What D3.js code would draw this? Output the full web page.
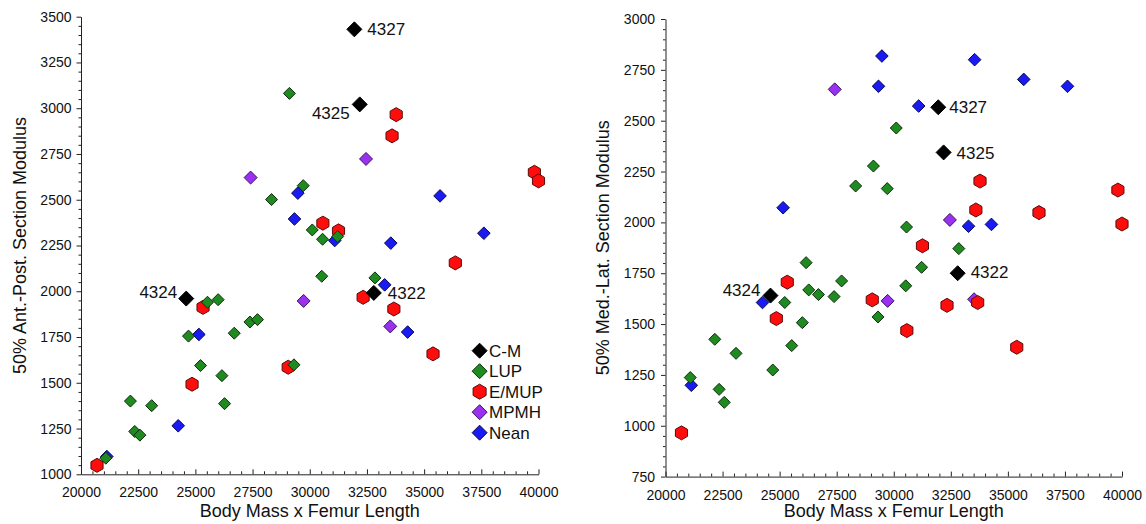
<!DOCTYPE html>
<html><head><meta charset="utf-8">
<script src="https://cdn.jsdelivr.net/npm/d3@7"></script>
<style>
body{margin:0;background:#fff}
svg{display:block}
text{font-family:"Liberation Sans",Arial,Helvetica,sans-serif;fill:#111}
</style>
</head><body>
<svg id="chart" width="1146" height="524"></svg>
<script>
// ---------------- DATA ----------------
const xTicks = [20000, 22500, 25000, 27500, 30000, 32500, 35000, 37500, 40000];
const yTicksAP = [1000, 1250, 1500, 1750, 2000, 2250, 2500, 2750, 3000, 3250, 3500];
const yTicksML = [750, 1000, 1250, 1500, 1750, 2000, 2250, 2500, 2750, 3000];
const seriesNames = ["C-M", "LUP", "E/MUP", "MPMH", "Nean"];

// C-M (labelled specimens)
const cmLabels = ["4324", "4327", "4325", "4322"];
const cmX  = [24600, 31950, 32185, 32800];
const cmAP = [1960, 3431, 3021, 1991];
const cmML = [1640, 2566, 2344, 1750];

// LUP
const lupX  = [21085, 22160, 22350, 22575, 23090, 24700, 25225, 25530, 25995, 26160, 26275, 26700, 27385, 27715, 28330, 29110, 29310, 29715, 30110, 30525, 30560, 31220, 32850];
const lupAP = [1088, 1400, 1234, 1214, 1375, 1755, 1594, 1940, 1954, 1539, 1386, 1771, 1832, 1845, 2501, 3081, 1598, 2577, 2335, 2082, 2284, 2299, 2073];
const lupML = [1237, 1425, 1179, 1115, 1356, 1274, 1606, 1394, 1507, 1802, 1668, 1645, 1635, 1712, 2179, 2277, 1535, 2166, 2464, 1688, 1977, 1779, 1871];

// E/MUP
const emupX  = [20700, 24855, 25335, 29058, 30574, 31257, 32333, 33598, 33677, 33779, 35389, 36363, 39820, 40000];
const emupAP = [1049, 1492, 1912, 1585, 2372, 2330, 1967, 2849, 1903, 2965, 1658, 2155, 2650, 2603];
const emupML = [965, 1527, 1706, 1619, 1468, 1885, 1592, 2061, 1606, 2203, 1386, 2048, 2159, 1992];

// MPMH
const mpmhX  = [27415, 29732, 32460, 33520];
const mpmhAP = [2621, 1947, 2723, 1808];
const mpmhML = [2654, 1614, 2012, 1622];

// Nean
const neanX  = [21130, 24250, 25153, 29332, 29480, 31092, 33275, 33543, 34280, 35695, 37612];
const neanAP = [1097, 1265, 1764, 2395, 2536, 2277, 2035, 2263, 1777, 2521, 2317];
const neanML = [1199, 1606, 2072, 2669, 2818, 2572, 1981, 2800, 1990, 2703, 2669];

// ---------------- STYLE ----------------
const styles = {
  "C-M":   {fill: "#000000", stroke: "#000000", shape: "diamond", r: 7.5},
  "LUP":   {fill: "#1f8a1f", stroke: "#0d2e0d", shape: "diamond", r: 6},
  "E/MUP": {fill: "#ff0d0d", stroke: "#5a0a0a", shape: "hexagon", r: 7},
  "MPMH":  {fill: "#9a30f0", stroke: "#3a1560", shape: "diamond", r: 6.5},
  "Nean":  {fill: "#1a1af2", stroke: "#0a0a50", shape: "diamond", r: 6.3}
};

function shapePath(shape, r) {
  if (shape === "diamond") {
    return d3.line()([[0, -r], [r, 0], [0, r], [-r, 0]]) + "Z";
  }
  const pts = d3.range(6).map(i => {
    const a = -Math.PI / 2 + i * Math.PI / 3;
    return [r * Math.cos(a), r * Math.sin(a)];
  });
  return d3.line()(pts) + "Z";
}

const svg = d3.select("#chart");

function minorTicks(majors, n) {
  const out = [];
  for (let i = 0; i < majors.length - 1; i++) {
    const step = (majors[i + 1] - majors[i]) / (n + 1);
    for (let k = 1; k <= n; k++) out.push(majors[i] + k * step);
  }
  return out;
}

function panel(cfg) {
  const x = d3.scaleLinear().domain([20000, 40000]).range([cfg.x0, cfg.x1]);
  const y = d3.scaleLinear().domain([cfg.yTicks[0], cfg.yTicks[cfg.yTicks.length - 1]]).range([cfg.yb, cfg.yt]);
  const g = svg.append("g");
  const fmt = d3.format("d");

  // x minor
  g.append("g").attr("transform", `translate(0,${cfg.yb})`)
    .call(d3.axisBottom(x).tickValues(minorTicks(xTicks, 4)).tickSizeInner(-3).tickSizeOuter(0).tickFormat(""))
    .call(s => s.select(".domain").remove());
  // x major
  const gx = g.append("g").attr("transform", `translate(0,${cfg.yb})`)
    .call(d3.axisBottom(x).tickValues(xTicks).tickSizeInner(-5).tickSizeOuter(0).tickPadding(13).tickFormat(fmt));
  gx.selectAll("text").style("font-size", "14px").style("font-family", '"Liberation Sans",Arial,sans-serif').attr("fill", "#111");

  // y minor
  g.append("g").attr("transform", `translate(${cfg.x0},0)`)
    .call(d3.axisLeft(y).tickValues(minorTicks(cfg.yTicks, 4)).tickSizeInner(2.5).tickSizeOuter(0).tickFormat(""))
    .call(s => s.select(".domain").remove());
  // y major
  const gy = g.append("g").attr("transform", `translate(${cfg.x0},0)`)
    .call(d3.axisLeft(y).tickValues(cfg.yTicks).tickSizeInner(4.5).tickSizeOuter(0).tickPadding(cfg.yPad).tickFormat(fmt));
  gy.selectAll("text").style("font-size", "14px").style("font-family", '"Liberation Sans",Arial,sans-serif').attr("fill", "#111");
  g.selectAll(".domain, .tick line").attr("stroke", "#222").attr("stroke-width", 1);

  // titles
  g.append("text").attr("x", (cfg.x0 + cfg.x1) / 2).attr("y", 517)
    .attr("text-anchor", "middle").style("font-size", "18px").text("Body Mass x Femur Length");
  g.append("text").attr("transform", `translate(${cfg.titleX},${(cfg.yb + cfg.yt) / 2}) rotate(-90)`)
    .attr("text-anchor", "middle").attr("dy", "0.35em").style("font-size", "18px").text(cfg.yTitle);

  // points
  const series = [
    {name: "Nean", xs: neanX, ys: cfg.key === "AP" ? neanAP : neanML},
    {name: "MPMH", xs: mpmhX, ys: cfg.key === "AP" ? mpmhAP : mpmhML},
    {name: "E/MUP", xs: emupX, ys: cfg.key === "AP" ? emupAP : emupML},
    {name: "LUP", xs: lupX, ys: cfg.key === "AP" ? lupAP : lupML},
    {name: "C-M", xs: cmX, ys: cfg.key === "AP" ? cmAP : cmML}
  ];
  series.forEach(s => {
    const st = styles[s.name];
    g.append("g").selectAll("path").data(s.xs.map((v, i) => [v, s.ys[i]])).join("path")
      .attr("d", shapePath(st.shape, st.r))
      .attr("transform", d => `translate(${x(d[0])},${y(d[1])})`)
      .attr("fill", st.fill).attr("stroke", st.stroke).attr("stroke-width", 1);
  });

  // point labels
  const cmY = cfg.key === "AP" ? cmAP : cmML;
  cmLabels.forEach((lab, i) => {
    const o = cfg.labelOffsets[lab];
    g.append("text").attr("x", x(cmX[i]) + o[0]).attr("y", y(cmY[i]) + o[1])
      .attr("text-anchor", o[2]).style("font-size", "17px").text(lab);
  });

  return {x, y, g};
}

panel({
  key: "AP", x0: 81, x1: 538.5, yb: 474.3, yt: 16.7, yTicks: yTicksAP, yPad: 5,
  titleX: 20, yTitle: "50% Ant.-Post. Section Modulus",
  labelOffsets: {
    "4327": [13, 6, "start"],
    "4325": [-10, 15, "end"],
    "4324": [-9, -1, "end"],
    "4322": [14, 6, "start"]
  }
});

panel({
  key: "ML", x0: 665.5, x1: 1122, yb: 476.6, yt: 19, yTicks: yTicksML, yPad: 6,
  titleX: 603, yTitle: "50% Med.-Lat. Section Modulus",
  labelOffsets: {
    "4327": [11, 6, "start"],
    "4325": [13, 7, "start"],
    "4324": [-10, 0, "end"],
    "4322": [13, 5, "start"]
  }
});

// legend (left panel)
const legRows = [350.7, 371.2, 391.7, 412.2, 432.7];
const leg = svg.append("g");
seriesNames.forEach((name, i) => {
  const st = styles[name];
  leg.append("path").attr("d", shapePath(st.shape, name === "E/MUP" ? 7.5 : 7.5))
    .attr("transform", `translate(479.6,${legRows[i]})`)
    .attr("fill", st.fill).attr("stroke", st.stroke).attr("stroke-width", 1);
  leg.append("text").attr("x", 489).attr("y", legRows[i] + 6)
    .style("font-size", "17px").text(name);
});
</script>
</body></html>
